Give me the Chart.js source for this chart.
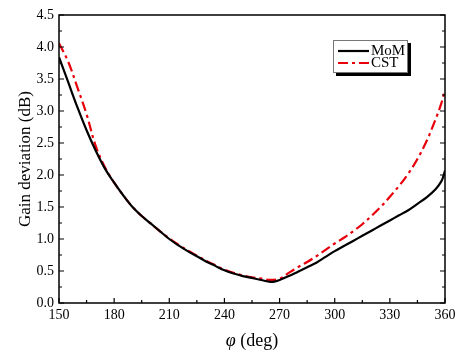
<!DOCTYPE html>
<html>
<head>
<meta charset="utf-8">
<script src="https://cdn.jsdelivr.net/npm/chart.js@4"></script>
<style>
html,body{margin:0;padding:0;background:#fff;}
#wrap{width:469px;height:355px;position:relative;}
</style>
</head>
<body>
<div id="wrap"><canvas id="c" width="469" height="355"></canvas></div>
<script>
// angle (deg) and gain deviation (dB)
const momPhi = [150,155,160,165,170,175,180,185,190,195,200,205,210,215,220,225,230,235,240,245,250,255,260,265,268,270,275,280,285,290,295,300,305,310,315,320,325,330,335,340,345,350,355,358,359,360];
const momVal = [3.84,3.45,3.06,2.70,2.38,2.10,1.88,1.68,1.50,1.36,1.24,1.12,1.00,0.90,0.81,0.73,0.65,0.58,0.51,0.46,0.42,0.39,0.36,0.33,0.34,0.36,0.42,0.49,0.56,0.63,0.72,0.81,0.89,0.97,1.05,1.13,1.21,1.29,1.37,1.45,1.55,1.65,1.78,1.90,1.97,2.07];
const cstPhi = [150,155,160,165,170,175,180,185,190,195,200,205,210,215,220,225,230,235,240,245,250,255,260,265,270,275,280,285,290,295,300,305,310,315,320,325,330,335,340,345,350,355,358,360];
const cstVal = [4.06,3.77,3.37,2.95,2.45,2.12,1.88,1.68,1.50,1.36,1.24,1.12,1.01,0.91,0.82,0.74,0.66,0.59,0.52,0.47,0.43,0.40,0.38,0.36,0.38,0.47,0.56,0.64,0.73,0.83,0.93,1.02,1.12,1.23,1.36,1.50,1.66,1.83,2.02,2.25,2.53,2.88,3.12,3.33];
const seriesNames = ['MoM','CST'];
const xTicks = [150,180,210,240,270,300,330,360];
const yTicks = [0,0.5,1,1.5,2,2.5,3,3.5,4,4.5];

const SERIF = '"Liberation Serif","DejaVu Serif",serif';

const toPts = (xs, ys) => xs.map((x,i)=>({x:x,y:ys[i]}));

const framePlugin = {
  id:'frame',
  afterDraw(chart){
    const ctx = chart.ctx, a = chart.chartArea;
    const xs = chart.scales.x, ys = chart.scales.y;
    ctx.save();
    ctx.strokeStyle = '#000';
    ctx.lineWidth = 1.5;
    ctx.strokeRect(a.left, a.top, a.right-a.left, a.bottom-a.top);
    ctx.lineWidth = 1.2;
    ctx.beginPath();
    // x ticks (bottom, inward)
    for (let v = 150; v <= 360; v += 15) {
      const p = xs.getPixelForValue(v);
      const len = (v % 30 === 0) ? 5 : 3;
      ctx.moveTo(p, a.bottom); ctx.lineTo(p, a.bottom - len);
    }
    // y ticks (left and right, inward)
    for (let v = 0; v <= 4.5001; v += 0.25) {
      const p = ys.getPixelForValue(v);
      const major = Math.abs(v*2 - Math.round(v*2)) < 1e-6;
      const len = major ? 5 : 3;
      ctx.moveTo(a.left, p); ctx.lineTo(a.left + len, p);
      ctx.moveTo(a.right, p); ctx.lineTo(a.right - len, p);
    }
    ctx.stroke();

    // x axis title with italic phi
    ctx.fillStyle = '#000';
    ctx.textBaseline = 'middle';
    const cx = (a.left + a.right)/2, cy = 341;
    ctx.font = 'italic 18px ' + SERIF;
    const w1 = ctx.measureText('\u03c6').width;
    ctx.font = '18px ' + SERIF;
    const w2 = ctx.measureText(' (deg)').width;
    const x0 = cx - (w1+w2)/2;
    ctx.textAlign = 'left';
    ctx.font = 'italic 18px ' + SERIF;
    ctx.fillText('\u03c6', x0, cy);
    ctx.font = '18px ' + SERIF;
    ctx.fillText(' (deg)', x0 + w1, cy);

    // legend
    const lx = 333, ly = 40, lw = 75, lh = 33;
    ctx.fillStyle = '#000';
    ctx.fillRect(lx+3, ly+3, lw, lh);
    ctx.fillStyle = '#fff';
    ctx.fillRect(lx, ly, lw, lh);
    ctx.lineWidth = 1;
    ctx.strokeStyle = '#777';
    ctx.strokeRect(lx+0.5, ly+0.5, lw-1, lh-1);
    chart.data.datasets.forEach((ds, i) => {
      const yy = ly + 11 + i*12;
      ctx.strokeStyle = ds.borderColor;
      ctx.lineWidth = ds.borderWidth;
      ctx.setLineDash(ds.borderDash || []);
      ctx.beginPath(); ctx.moveTo(lx+5, yy); ctx.lineTo(lx+36, yy); ctx.stroke();
      ctx.setLineDash([]);
      ctx.fillStyle = '#000';
      ctx.font = '15px ' + SERIF;
      ctx.textAlign = 'left';
      ctx.fillText(ds.label, lx+38, yy+0.5);
    });
    ctx.restore();
  }
};

new Chart(document.getElementById('c'), {
  type:'line',
  data:{
    datasets:[
      {label:seriesNames[0], data:toPts(momPhi, momVal), borderColor:'#000', borderWidth:2.2, pointRadius:0, tension:0.35, fill:false},
      {label:seriesNames[1], data:toPts(cstPhi, cstVal), borderColor:'#e8000b', borderWidth:2.2, borderDash:[10,4,3,4], pointRadius:0, tension:0.35, fill:false}
    ]
  },
  options:{
    responsive:false,
    animation:false,
    layout:{padding:{left:0,right:24,top:15,bottom:0}},
    plugins:{legend:{display:false}, tooltip:{enabled:false}},
    scales:{
      x:{
        type:'linear', min:150, max:360,
        afterBuildTicks(s){ s.ticks = xTicks.map(v=>({value:v})); },
        afterFit(s){ s.height = 52; },
        grid:{display:false, drawTicks:false},
        border:{display:false},
        ticks:{color:'#000', font:{family:SERIF, size:14}, padding:4, maxRotation:0}
      },
      y:{
        type:'linear', min:0, max:4.5,
        afterBuildTicks(s){ s.ticks = yTicks.map(v=>({value:v})); },
        afterFit(s){ s.width = 59; },
        grid:{display:false, drawTicks:false},
        border:{display:false},
        title:{display:true, text:'Gain deviation (dB)', color:'#000', font:{family:SERIF, size:17}, padding:{top:15,bottom:0}},
        ticks:{color:'#000', font:{family:SERIF, size:14}, padding:5, callback:v=>Number(v).toFixed(1)}
      }
    }
  },
  plugins:[framePlugin]
});
</script>
</body>
</html>
